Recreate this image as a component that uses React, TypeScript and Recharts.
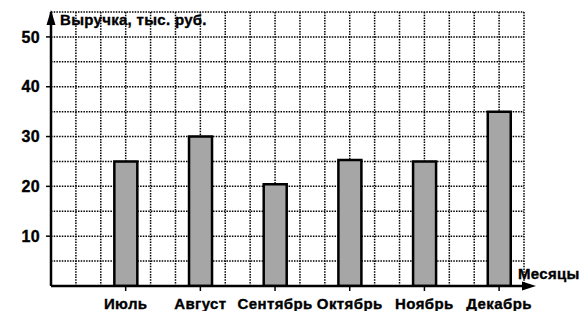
import { Bar, BarChart, CartesianGrid, ReferenceDot, XAxis, YAxis } from "recharts"

const months = ["Июль", "Август", "Сентябрь", "Октябрь", "Ноябрь", "Декабрь"]
const revenue = [25, 30, 20.4, 25.3, 25, 35]
const yTicks = [10, 20, 30, 40, 50]
const gridRows = [5, 10, 15, 20, 25, 30, 35, 40, 45, 50, 55]
const gridCols = [1, 2, 3, 4, 5, 6, 7, 8, 9, 10, 11, 12, 13, 14, 15, 16, 17, 18, 19]

// each month sits on every third grid column
const data = months.map((name, i) => ({ name, pos: (i + 1) * 3, value: revenue[i] }))
const monthTicks = data.map((d) => d.pos)

const font = "'Liberation Sans', Arial, sans-serif"
const tickStyle = {
	fontFamily: font,
	fontSize: 15,
	fontWeight: "bold",
	fill: "#000",
	stroke: "#000",
	strokeWidth: 0.35,
	letterSpacing: 0.4,
}
const yTickStyle = { ...tickStyle, fontSize: 16, letterSpacing: 0.3 }

const UpArrow = ({ cx, cy }: any) => (
	<polygon points={`${cx},${cy - 2} ${cx - 4.5},${cy + 13} ${cx + 4.5},${cy + 13}`} fill="#000" />
)

const RightArrow = ({ cx, cy }: any) => (
	<g>
		<line x1={cx} y1={cy} x2={cx + 4} y2={cy} stroke="#000" strokeWidth={2.5} />
		<polygon points={`${cx - 2},${cy - 4.5} ${cx + 12},${cy} ${cx - 2},${cy + 4.5}`} fill="#000" />
	</g>
)

const labelStyle = {
	position: "absolute" as const,
	fontFamily: font,
	fontSize: 15,
	fontWeight: "bold",
	lineHeight: "15px",
	letterSpacing: 0.3,
	WebkitTextStroke: "0.35px #000",
	whiteSpace: "nowrap" as const,
}

const App = () => (
	<div style={{ position: "absolute", left: 0, top: 0, width: 580, height: 311, background: "#fff" }}>
		<BarChart
			width={580}
			height={311}
			data={data}
			margin={{ top: 12, right: 56, left: 0, bottom: 0 }}
		>
			<CartesianGrid
				stroke="#000"
				strokeWidth={1.5}
				strokeDasharray="1.5 1.2"
				horizontalValues={gridRows}
				verticalValues={gridCols}
			/>
			<XAxis
				type="number"
				dataKey="pos"
				domain={[0, 19]}
				ticks={monthTicks}
				interval={0}
				tickFormatter={(v) => months[v / 3 - 1]}
				height={25}
				tickSize={5}
				tickMargin={7}
				tick={tickStyle}
				tickLine={{ stroke: "#000", strokeWidth: 1.5 }}
				axisLine={{ stroke: "#000", strokeWidth: 2.5 }}
				allowDataOverflow
			/>
			<YAxis
				type="number"
				domain={[0, 55]}
				ticks={yTicks}
				interval={0}
				width={51}
				tickSize={5}
				tickMargin={6}
				tick={yTickStyle}
				tickLine={{ stroke: "#000", strokeWidth: 1.5 }}
				axisLine={{ stroke: "#000", strokeWidth: 2.5 }}
				allowDataOverflow
			/>
			<Bar
				dataKey="value"
				barSize={23}
				fill="#a6a6a6"
				stroke="#000"
				strokeWidth={2.5}
				isAnimationActive={false}
			/>
			<ReferenceDot x={0} y={55} ifOverflow="visible" shape={UpArrow} />
			<ReferenceDot x={19} y={0} ifOverflow="visible" shape={RightArrow} />
		</BarChart>
		<div style={{ ...labelStyle, left: 60, top: 12 }}>Выручка, тыс. руб.</div>
		<div style={{ ...labelStyle, left: 518, top: 266 }}>Месяцы</div>
	</div>
)

export default App
